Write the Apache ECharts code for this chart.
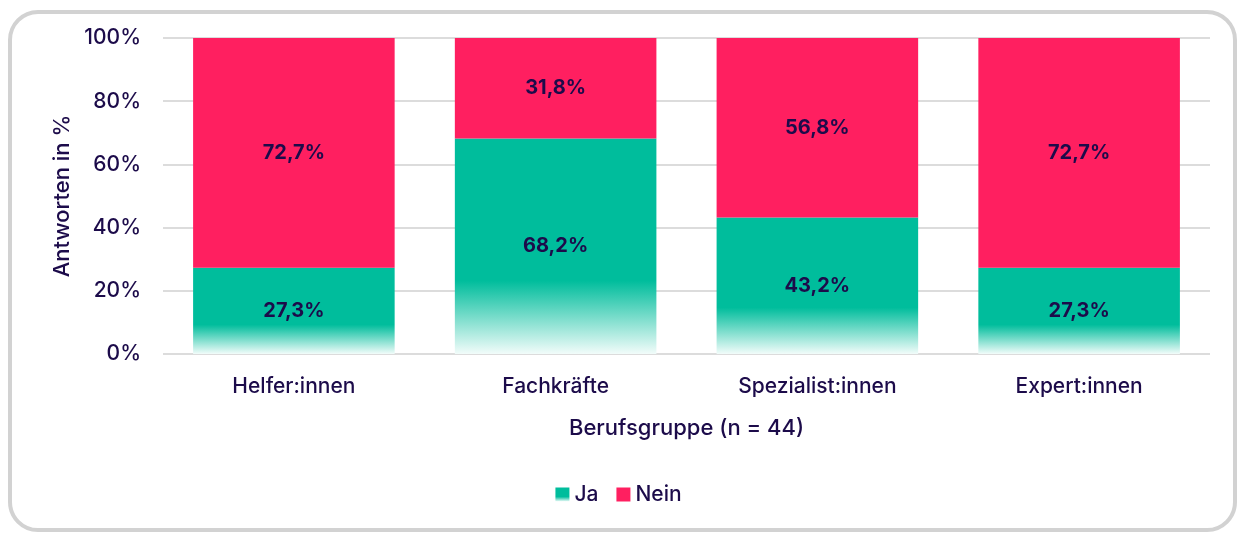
<!DOCTYPE html>
<html>
<head>
<meta charset="utf-8">
<script src="https://cdn.jsdelivr.net/npm/echarts@6/dist/echarts.min.js"></script>
<style>
  html, body { margin: 0; padding: 0; background: #fff; }
  .frame {
    position: absolute; left: 8px; top: 10px; width: 1229px; height: 522px;
    box-sizing: border-box; border: 4px solid #d2d2d2; border-radius: 30px;
  }
  #chart { position: absolute; left: 0; top: 0; width: 1237px; height: 534px; }
</style>
</head>
<body>
<div class="frame"></div>
<div id="chart"></div>
<script>
// Daten
const categories = ["Helfer:innen", "Fachkräfte", "Spezialist:innen", "Expert:innen"]
const jaValues = [27.3, 68.2, 43.2, 27.3]
const neinValues = [72.7, 31.8, 56.8, 72.7]
const yTicks = [0, 20, 40, 60, 80, 100]

const textColor = "#1c0b4a"
const green = "#00bd9c"
const pink = "#ff1f60"
const font = "Inter"

const greenFade = new echarts.graphic.LinearGradient(0, 0, 0, 1, [
  { offset: 0, color: green },
  { offset: 0.66, color: green },
  { offset: 1, color: "#f2fcfa" },
])

function pct(p) {
  return p.value.toFixed(1).replace(".", ",") + "%"
}

let myChart = echarts.init(document.getElementById("chart"))
myChart.setOption({
  textStyle: { fontFamily: font, color: textColor },
  grid: { left: 163, right: 27, top: 38, bottom: 180 },
  legend: {
    bottom: 24,
    left: "center",
    itemWidth: 14,
    itemHeight: 14,
    itemGap: 18,
    icon: "rect",
    textStyle: { color: textColor, fontSize: 21, fontFamily: font, fontWeight: 500 },
    data: [
      { name: "Ja", itemStyle: { color: greenFade } },
      { name: "Nein" },
    ],
  },
  xAxis: {
    type: "category",
    data: categories,
    name: "Berufsgruppe (n = 44)",
    nameLocation: "middle",
    nameGap: 63,
    nameTextStyle: { color: textColor, fontSize: 22, fontWeight: 500 },
    axisLine: { show: false },
    axisTick: { show: false },
    axisLabel: { color: textColor, fontSize: 21, fontWeight: 500, margin: 22 },
  },
  yAxis: {
    type: "value",
    min: yTicks[0],
    max: yTicks[yTicks.length - 1],
    interval: 20,
    name: "Antworten in %",
    nameLocation: "middle",
    nameGap: 89,
    nameTextStyle: { color: textColor, fontSize: 22, fontWeight: 500 },
    axisLabel: {
      color: textColor,
      fontSize: 21,
      fontWeight: 500,
      margin: 22,
      formatter: (v) => v + "%",
    },
    splitLine: { lineStyle: { color: "#dcdcdc", width: 2 } },
  },
  series: [
    {
      name: "Ja",
      type: "bar",
      stack: "total",
      data: jaValues,
      barWidth: "77%",
      itemStyle: { color: greenFade },
      label: { show: true, color: textColor, fontSize: 20, fontWeight: "bold", formatter: pct },
    },
    {
      name: "Nein",
      type: "bar",
      stack: "total",
      data: neinValues,
      barWidth: "77%",
      itemStyle: { color: pink },
      label: { show: true, color: textColor, fontSize: 20, fontWeight: "bold", formatter: pct },
    },
  ],
})
</script>
</body>
</html>
